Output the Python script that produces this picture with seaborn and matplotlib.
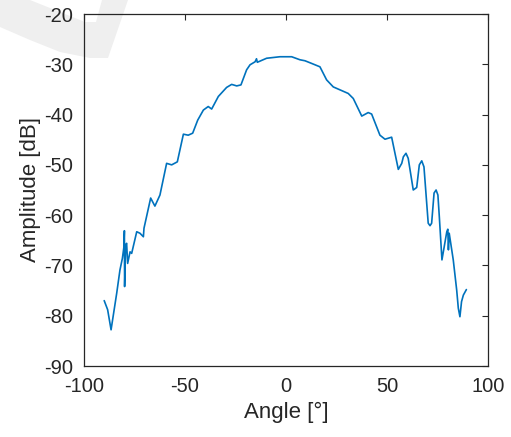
import matplotlib
matplotlib.use("Agg")
import matplotlib.pyplot as plt
import seaborn as sns
import pandas as pd
from matplotlib.patches import Polygon

angle = [-90.0, -88.3, -86.6, -83.8, -82.2, -81.0, -80.3, -80.0, -79.9, -79.4, -78.9, -78.4,
         -77.2, -76.4, -73.9, -72.3, -70.6, -70.3, -67.0, -64.9, -62.4, -59.1, -56.6, -53.8,
         -50.8, -48.4, -46.2, -43.7, -40.9, -38.5, -36.8, -33.5, -29.4, -26.9, -24.4, -22.3,
         -19.5, -17.8, -15.3, -14.6, -14.2, -9.6, -3.0, 2.8, 6.9, 9.4, 11.9, 16.8, 20.1, 23.4,
         30.8, 33.3, 37.5, 40.7, 42.4, 46.5, 49.0, 52.3, 55.6, 57.3, 58.1, 59.4, 60.5, 63.0,
         64.7, 66.0, 67.2, 68.3, 70.4, 71.3, 72.1, 73.3, 74.3, 75.2, 75.9, 77.2, 79.6, 80.1,
         80.4, 80.8, 82.8, 84.5, 85.3, 86.1, 86.9, 87.8, 89.3]
amplitude = [-77.0, -78.8, -82.8, -75.5, -70.9, -68.6, -66.5, -63.1, -74.2, -66.0, -65.6, -69.6,
             -67.3, -67.6, -63.3, -63.6, -64.3, -62.6, -56.6, -58.2, -56.0, -49.7, -50.0, -49.4,
             -43.9, -44.1, -43.7, -41.1, -39.1, -38.4, -38.9, -36.4, -34.6, -34.0, -34.3, -34.1,
             -31.1, -30.1, -29.5, -28.9, -29.6, -28.8, -28.5, -28.5, -29.1, -29.3, -29.7, -30.5,
             -33.1, -34.5, -35.8, -36.8, -40.3, -39.6, -39.9, -44.1, -44.9, -44.5, -50.9, -49.7,
             -48.4, -47.7, -48.7, -55.0, -54.5, -50.0, -49.2, -50.4, -61.6, -62.1, -61.6, -55.6,
             -55.0, -56.0, -60.3, -68.9, -63.3, -62.8, -66.9, -63.6, -68.9, -74.9, -78.5, -80.2,
             -77.2, -75.9, -74.8]

x_ticks = [-100, -50, 0, 50, 100]
y_ticks = [-90, -80, -70, -60, -50, -40, -30, -20]

df = pd.DataFrame({"Angle": angle, "Amplitude": amplitude})

sns.set_style("white")
plt.rcParams["font.family"] = ["Liberation Sans", "DejaVu Sans"]
plt.rcParams["axes.unicode_minus"] = False

fig = plt.figure(figsize=(5.11, 4.37), dpi=100)
W, H = 511, 437
# faint watermark in background (figure pixel coords)
wm = [(0, 0), (30, 0), (60, 12), (85, 22), (96, 22), (102, 0), (128, 0), (108, 58),
      (90, 58), (60, 52), (30, 40), (0, 27)]
fig.patches.append(Polygon([(x / W, 1 - y / H) for x, y in wm], closed=True,
                           transform=fig.transFigure, facecolor="#efefef",
                           edgecolor="none", zorder=-10))

ax = fig.add_axes([84 / W, 1 - 366 / H, (488 - 84) / W, (366 - 14) / H])
ax.patch.set_alpha(0)
sns.lineplot(data=df, x="Angle", y="Amplitude", sort=False, estimator=None,
             color="#0072BD", linewidth=1.2, ax=ax)

ax.set_xlim(-100, 100)
ax.set_ylim(-90, -20)
ax.set_xticks(x_ticks)
ax.set_yticks(y_ticks)
ax.set_xlabel("Angle [°]", fontsize=16, color="#262626", labelpad=4)
ax.set_ylabel("Amplitude [dB]", fontsize=16, color="#262626", labelpad=2)
ax.tick_params(direction="in", top=True, right=True, length=4, width=0.8,
               labelsize=14.5, colors="#262626", pad=8)
for s in ax.spines.values():
    s.set_visible(True)
    s.set_color("#262626")
    s.set_linewidth(0.9)

fig.savefig("out.png", dpi=100)
